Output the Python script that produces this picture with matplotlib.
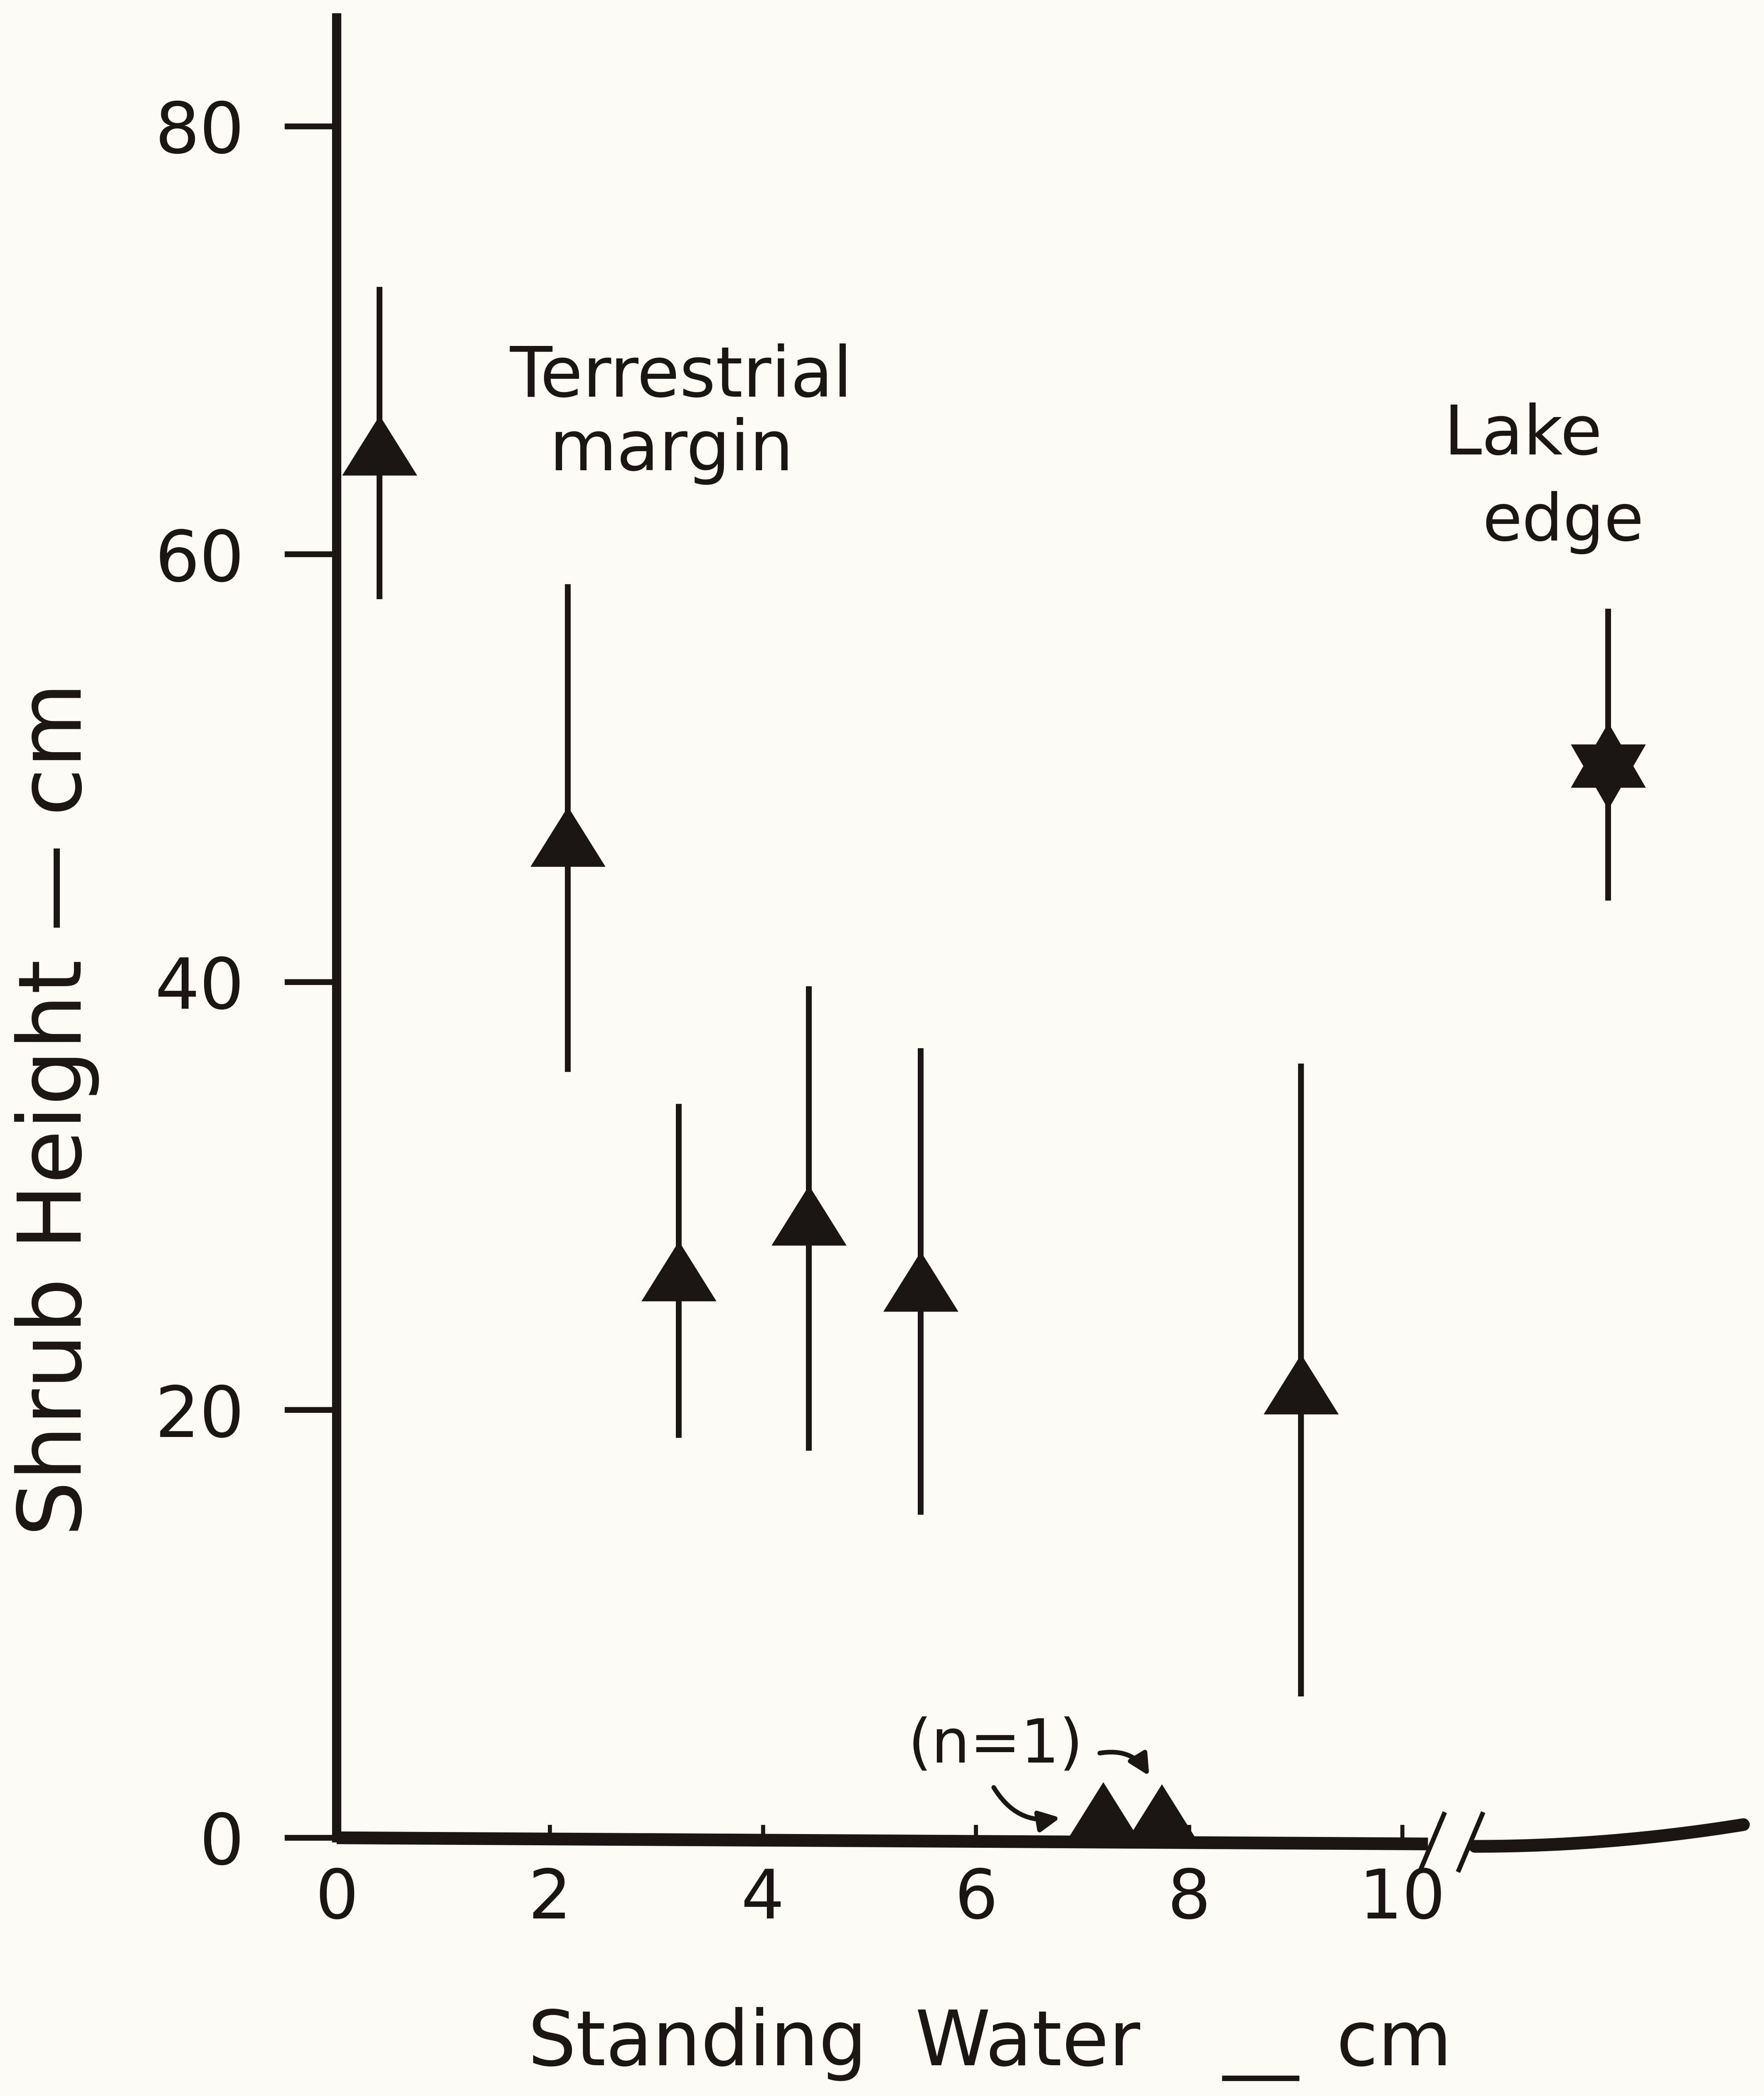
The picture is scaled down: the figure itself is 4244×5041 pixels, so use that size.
import numpy as np
import matplotlib
matplotlib.use("Agg")
import matplotlib.pyplot as plt
from matplotlib.path import Path
from matplotlib import font_manager

# ---------------- data ----------------
water_depth = [0.40, 2.17, 3.21, 4.43, 5.48, 9.05]
shrub_mean = [65.1, 46.8, 26.5, 29.1, 26.0, 21.2]
shrub_low = [57.9, 35.8, 18.7, 18.1, 15.1, 6.6]
shrub_high = [72.5, 58.6, 34.3, 39.8, 36.9, 36.2]

single_depth = [7.19, 7.74]          # n = 1 sites
single_height = [1.2, 1.1]

lake_depth = [11.93]                 # lake edge (beyond axis break)
lake_mean = [50.1]
lake_low = [43.8]
lake_high = [57.45]

x_ticks = [0, 2, 4, 6, 8, 10]
y_ticks = [0, 20, 40, 60, 80]

# ---------------- style ----------------
INK = "#1b1614"
BG = "#fcfbf5"
W, H, DPI = 4244, 5041, 100

names = {f.name for f in font_manager.fontManager.ttflist}
narrow = "Liberation Sans Narrow" if "Liberation Sans Narrow" in names else "DejaVu Sans"
plt.rcParams["font.family"] = ["DejaVu Sans"]

fig = plt.figure(figsize=(W / DPI, H / DPI), dpi=DPI, facecolor=BG)
ax = fig.add_axes([810 / W, (H - 4420) / H, (4230 - 810) / W, 4377 / H])
ax.set_facecolor(BG)
ax.set_xlim(0, (4230 - 810) / 256.4)
ax.set_ylim(0, 4377 / 51.45)

# markers
tri = Path([(-1, -0.8), (1, -0.8), (0, 0.8), (-1, -0.8)],
           [Path.MOVETO, Path.LINETO, Path.LINETO, Path.CLOSEPOLY])
ang_o = np.deg2rad(90 + 60 * np.arange(6))
ang_i = ang_o + np.deg2rad(30)
r_i = 1 / np.sqrt(3)
verts = []
for ao, ai in zip(ang_o, ang_i):
    verts.append((np.cos(ao), np.sin(ao)))
    verts.append((r_i * np.cos(ai), r_i * np.sin(ai)))
verts.append(verts[0])
hexagram = Path(verts, [Path.MOVETO] + [Path.LINETO] * 11 + [Path.CLOSEPOLY])

# error bars
m = np.array(shrub_mean)
ax.errorbar(water_depth, shrub_mean,
            yerr=[m - np.array(shrub_low), np.array(shrub_high) - m],
            fmt="none", ecolor=INK, elinewidth=10, capsize=0, zorder=3)
lm = np.array(lake_mean)
ax.errorbar(lake_depth, lake_mean,
            yerr=[lm - np.array(lake_low), np.array(lake_high) - lm],
            fmt="none", ecolor=INK, elinewidth=10, capsize=0, zorder=3)

ax.plot(water_depth, shrub_mean, linestyle="none", marker=tri, ms=130,
        mfc=INK, mec=INK, mew=0, zorder=4, clip_on=False)
ax.plot(single_depth, single_height, linestyle="none", marker=tri, ms=130,
        mfc=INK, mec=INK, mew=0, zorder=4, clip_on=False)
ax.plot(lake_depth, lake_mean, linestyle="none", marker=hexagram, ms=150,
        mfc=INK, mec=INK, mew=0, zorder=4, clip_on=False)

# axes lines (hand-drawn look with break)
for s in ["top", "right", "bottom"]:
    ax.spines[s].set_visible(False)
ax.spines["left"].set_linewidth(16)
ax.spines["left"].set_color(INK)

xa = np.linspace(0, 10.24, 30)
ax.plot(xa, -0.028 * xa, color=INK, lw=22,
        solid_capstyle="butt", clip_on=False, zorder=5)
xb = np.linspace(10.68, 13.2, 40)
ax.plot(xb, -0.4 + 0.16 * (xb - 10.68) ** 2, color=INK, lw=22,
        solid_capstyle="round", clip_on=False, zorder=5)
for c in [10.28, 10.64]:
    ax.plot([c - 0.11, c + 0.11], [-1.5, 1.1], color=INK, lw=8,
            clip_on=False, zorder=5)

# ticks
ax.set_xticks(x_ticks)
ax.set_xticklabels([str(v) for v in x_ticks], fontsize=118, color=INK,
                   family=[narrow, "DejaVu Sans"])
ax.tick_params(axis="x", direction="in", length=22, width=7, color=INK, pad=50)
ax.set_yticks(y_ticks)
ax.set_yticklabels([str(v) for v in y_ticks], fontsize=122, color=INK)
ax.tick_params(axis="y", direction="out", length=90, width=10, color=INK, pad=70)

# labels
fig.text(137 / W, 1 - 2668 / H, "Shrub Height — cm", rotation=90,
         ha="center", va="center", fontsize=152, color=INK)
for word, left, base in [("Standing", 1270, 4967), ("Water", 2202, 4967),
                         ("__", 2942, 4962), ("cm", 3215, 4967)]:
    fig.text(left / W, (H - base) / H, word, ha="left", va="baseline",
             fontsize=132, color=INK)

# annotations
fig.text(1227 / W, (H - 954) / H, "Terrestrial", ha="left", va="baseline",
         fontsize=120, color=INK)
fig.text(1322 / W, (H - 1131) / H, "margin", ha="left", va="baseline",
         fontsize=120, color=INK)
fig.text(3474 / W, (H - 1093) / H, "Lake", ha="left", va="baseline",
         fontsize=118, color=INK)
fig.text(3566 / W, (H - 1300) / H, "edge", ha="left", va="baseline",
         fontsize=112, color=INK)
fig.text(2395 / W, (H - 4198) / H, "(n=1)", ha="center", va="center",
         fontsize=105, color=INK, family=[narrow, "DejaVu Sans"])

ax.annotate("", xy=(6.80, 0.95), xytext=(6.16, 2.4),
            arrowprops=dict(arrowstyle="-|>", color=INK, lw=8,
                            mutation_scale=75,
                            connectionstyle="arc3,rad=0.35"),
            annotation_clip=False, zorder=6)
ax.annotate("", xy=(7.63, 2.85), xytext=(7.15, 3.95),
            arrowprops=dict(arrowstyle="-|>", color=INK, lw=8,
                            mutation_scale=75,
                            connectionstyle="arc3,rad=-0.35"),
            annotation_clip=False, zorder=6)

fig.savefig("out.png", dpi=DPI, facecolor=BG)
